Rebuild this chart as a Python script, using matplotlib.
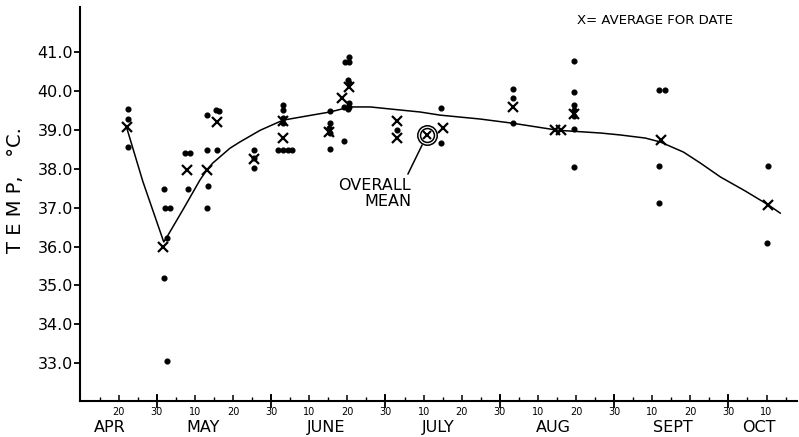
import numpy as np
import matplotlib
matplotlib.use("Agg")
from matplotlib import pyplot as plt

# x is measured in days on a 30-day-month scale: APR 0 = 0, MAY 0 = 30, ... OCT 0 = 180

# Individual readings (dots)
dot_day = [22.4, 22.4, 22.4,
           31.8, 32.1, 33.4, 32.6, 31.8, 32.6,
           37.5, 38.8, 38.1,
           43.1, 43.1, 43.3, 43.1,
           45.6, 46.3, 45.9,
           55.5, 55.5, 55.5,
           63.1, 63.1, 63.1, 63.2, 61.8, 63.1, 64.4, 65.5,
           75.4, 75.4, 75.2, 75.4, 75.4,
           79.1,
           80.4, 79.5, 80.4, 80.2, 80.4, 80.4, 80.4, 79.1, 80.1,
           93.0,
           104.6, 104.6,
           123.5, 123.5, 123.5,
           139.5, 139.5, 139.5, 139.5, 139.5, 139.5, 139.5,
           161.9, 163.3, 161.9, 161.9,
           190.5, 190.2]
dot_temp = [39.53, 39.27, 38.56,
            37.48, 37.0, 37.0, 36.22, 35.2, 33.05,
            38.4, 38.4, 37.48,
            39.38, 38.48, 37.56, 37.0,
            39.5, 39.48, 38.48,
            38.48, 38.27, 38.02,
            39.64, 39.5, 39.3, 39.17, 38.48, 38.48, 38.48, 38.48,
            39.48, 39.17, 39.04, 38.92, 38.5,
            38.72,
            40.88, 40.75, 40.75, 40.28, 40.2, 39.69, 39.59, 39.6, 39.55,
            39.0,
            39.56, 38.66,
            40.05, 39.82, 39.17,
            40.77, 39.97, 39.64, 39.51, 39.36, 39.02, 38.04,
            40.02, 40.02, 38.07, 37.12,
            38.07, 36.09]

# Average for date (X)
avg_day = [22.1, 31.6, 38.0, 43.1, 45.8, 55.5, 63.1, 63.1, 75.2, 78.6, 80.4,
           93.0, 93.0, 105.0, 123.5, 134.5, 136.0, 139.5, 162.4, 190.5]
avg_temp = [39.07, 35.99, 37.97, 37.97, 39.2, 38.25, 39.22, 38.8, 38.95, 39.82, 40.1,
            39.22, 38.8, 39.05, 39.59, 39.0, 39.0, 39.42, 38.74, 37.07]

# Overall mean
mean_day = 100.9
mean_temp = 38.87

# Hand-fitted seasonal curve
curve_day = [22.1, 26.3, 31.8, 32.6, 36.8, 41.3, 43.1, 44.7, 49.2, 51.8, 57.1,
             63.1, 68.9, 75.4, 80.7, 86.0, 92.0, 99.1, 104.3, 114.8, 123.5,
             135.3, 146.4, 151.6, 158.2, 162.1, 168.2, 172.6, 177.9, 184.4,
             190.5, 193.6]
curve_temp = [39.05, 37.68, 36.12, 36.24, 36.94, 37.71, 37.97, 38.15, 38.53, 38.69, 38.99,
              39.25, 39.35, 39.46, 39.59, 39.59, 39.53, 39.46, 39.38, 39.28, 39.17,
              38.99, 38.92, 38.87, 38.79, 38.69, 38.43, 38.15, 37.79, 37.43,
              37.07, 36.86]

# Axis labelling
ytick_vals = [33.0, 34.0, 35.0, 36.0, 37.0, 38.0, 39.0, 40.0, 41.0]
xtick_vals = [20, 30, 40, 50, 60, 70, 80, 90, 100, 110, 120, 130, 140, 150,
              160, 170, 180, 190]
xtick_labels = ["20", "30", "10", "20", "30", "10", "20", "30", "10", "20",
                "30", "10", "20", "30", "10", "20", "30", "10"]
month_ends = [30, 60, 90, 120, 150, 180]
month_names = ["APR", "MAY", "JUNE", "JULY", "AUG", "SEPT", "OCT"]
month_label_day = [17.7, 42.1, 74.4, 103.8, 134.0, 165.3, 187.9]

fig = plt.figure(figsize=(7.99, 4.37), dpi=100)
ax = fig.add_axes([0.100, 0.0824, 0.8975, 0.9016])

ax.plot(curve_day, curve_temp, color="black", lw=1.1, zorder=2)
ax.plot(dot_day, dot_temp, "o", color="black", ms=3.4, zorder=3)
ax.plot(avg_day, avg_temp, "x", color="black", ms=7, mew=1.6, zorder=4)

# Overall mean: double ring with an X inside
ax.plot(mean_day, mean_temp, "o", ms=14, mfc="white", mec="black", mew=1.1, zorder=5)
ax.plot(mean_day, mean_temp, "o", ms=10, mfc="none", mec="black", mew=1.1, zorder=5)
ax.plot(mean_day, mean_temp, "x", ms=5.5, color="black", mew=1.5, zorder=6)
ax.annotate("OVERALL\nMEAN", xy=(mean_day, mean_temp), xytext=(96.7, 37.76),
            ha="right", va="top", fontsize=11.5, linespacing=1.05,
            multialignment="right",
            arrowprops=dict(arrowstyle="-", color="black", lw=1.1,
                            relpos=(0.93, 1.0), shrinkA=1, shrinkB=8))

ax.set_xlim(9.8, 198)
ax.set_ylim(32.03, 42.16)

for side in ["top", "right"]:
    ax.spines[side].set_visible(False)
for side in ["left", "bottom"]:
    ax.spines[side].set_linewidth(1.5)

ax.set_yticks(ytick_vals)
ax.set_yticklabels([f"{v:.1f}" for v in ytick_vals])
ax.tick_params(axis="y", direction="out", length=4, width=1.3, labelsize=11.5, pad=1)

ax.set_xticks(xtick_vals)
ax.set_xticklabels(xtick_labels)
ax.set_xticks(np.arange(15, 198, 5), minor=True)
ax.tick_params(axis="x", which="major", direction="in", length=4, width=1.1,
               labelsize=7, pad=4)
ax.tick_params(axis="x", which="minor", direction="in", length=3, width=1.0)

# longer ticks at the month ends
sec = ax.secondary_xaxis("bottom")
sec.set_xticks(month_ends)
sec.tick_params(direction="inout", length=10, width=1.3, labelbottom=False)
sec.spines["bottom"].set_visible(False)

for name, d in zip(month_names, month_label_day):
    ax.text(d, -0.0685, name, transform=ax.get_xaxis_transform(),
            ha="center", va="center", fontsize=11.5)

fig.text(16 / 799, 1 - 190 / 437, "T E M P,   °C.", rotation=90, fontsize=14,
         ha="center", va="center")
fig.text(577 / 799, 1 - 20 / 437, "X= AVERAGE FOR DATE", fontsize=9.5,
         ha="left", va="center")

fig.savefig("out.png", dpi=100)
